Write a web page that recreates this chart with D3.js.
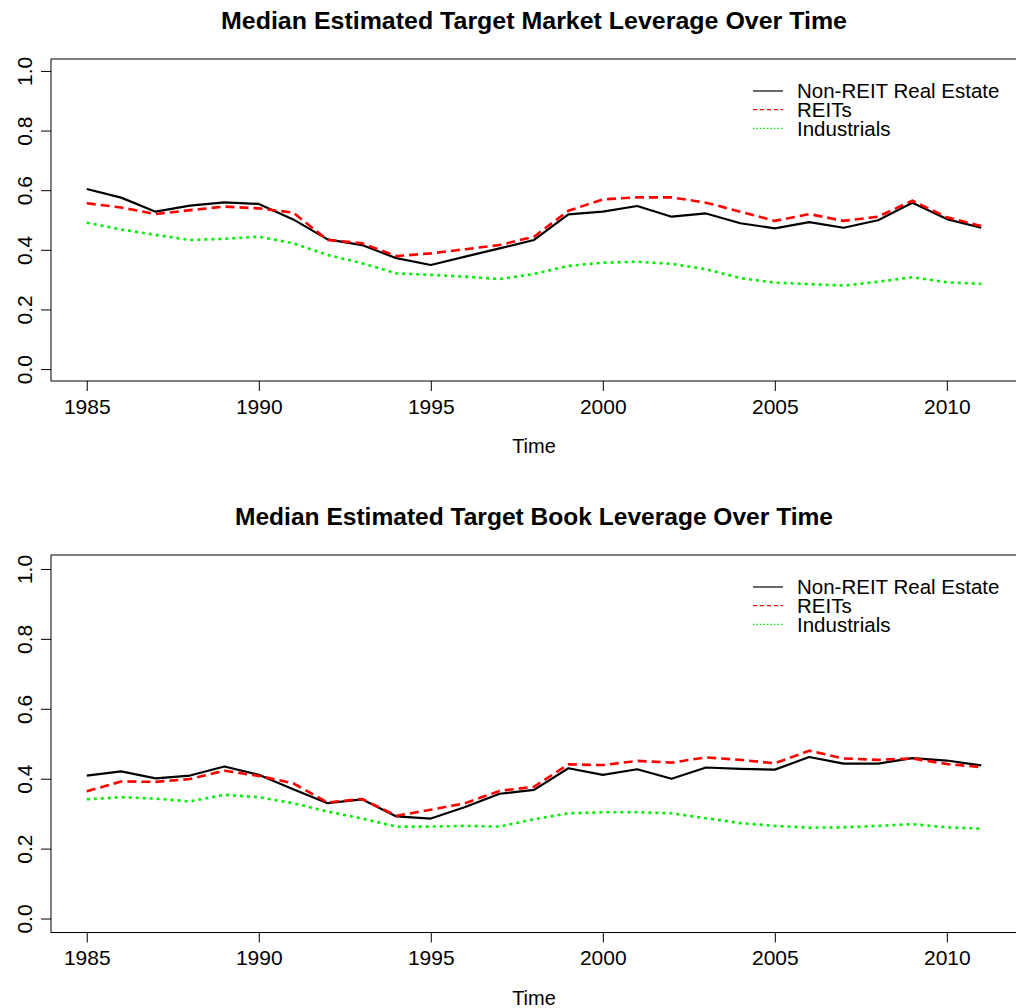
<!DOCTYPE html>
<html>
<head>
<meta charset="utf-8">
<script src="https://cdn.jsdelivr.net/npm/d3@7"></script>
<style>
  body { margin: 0; background: #fff; }
  svg { display: block; font-family: "Liberation Sans", Arial, Helvetica, sans-serif; }
</style>
</head>
<body>
<div id="chart"></div>
<script>
const years = d3.range(1985, 2012);
const seriesNames = ["Non-REIT Real Estate", "REITs", "Industrials"];
const yTicks = [0, 0.2, 0.4, 0.6, 0.8, 1.0];
const xTicks = [1985, 1990, 1995, 2000, 2005, 2010];

// market leverage
const marketNonReit = [0.604, 0.575, 0.528, 0.548, 0.559, 0.554, 0.502, 0.435, 0.416, 0.372, 0.349, 0.377, 0.405, 0.433,
  0.519, 0.528, 0.547, 0.511, 0.522, 0.489, 0.472, 0.493, 0.474, 0.499, 0.558, 0.503, 0.474];
const marketReit = [0.556, 0.542, 0.520, 0.533, 0.545, 0.539, 0.525, 0.433, 0.422, 0.379, 0.388, 0.402, 0.416, 0.444,
  0.531, 0.569, 0.576, 0.576, 0.558, 0.528, 0.497, 0.520, 0.497, 0.511, 0.565, 0.509, 0.480];
const marketIndustrial = [0.491, 0.468, 0.450, 0.433, 0.437, 0.444, 0.422, 0.383, 0.355, 0.321, 0.316, 0.310, 0.302, 0.319,
  0.346, 0.357, 0.360, 0.353, 0.335, 0.305, 0.290, 0.285, 0.280, 0.293, 0.308, 0.291, 0.286];

// book leverage
const bookNonReit = [0.409, 0.421, 0.401, 0.409, 0.435, 0.411, 0.370, 0.330, 0.341, 0.292, 0.286, 0.319, 0.357, 0.368,
  0.430, 0.411, 0.427, 0.400, 0.432, 0.428, 0.426, 0.462, 0.443, 0.443, 0.459, 0.452, 0.438];
const bookReit = [0.364, 0.392, 0.391, 0.399, 0.423, 0.408, 0.387, 0.332, 0.342, 0.294, 0.311, 0.330, 0.365, 0.377,
  0.441, 0.439, 0.451, 0.446, 0.461, 0.454, 0.444, 0.480, 0.458, 0.454, 0.458, 0.442, 0.433];
const bookIndustrial = [0.341, 0.347, 0.343, 0.335, 0.354, 0.347, 0.330, 0.306, 0.286, 0.263, 0.263, 0.265, 0.263, 0.284,
  0.301, 0.304, 0.304, 0.301, 0.287, 0.273, 0.265, 0.260, 0.261, 0.265, 0.270, 0.261, 0.257];

const styles = [
  { color: "#000000", width: 2.2, dash: null, legendDash: null },
  { color: "#ff0000", width: 2.6, dash: "9,5", legendDash: "4,3" },
  { color: "#00ee00", width: 2.6, dash: "3,4", legendDash: "1.5,2" }
];

const width = 1016;
const height = 1008;

const svg = d3.select("#chart")
  .append("svg")
  .attr("width", width)
  .attr("height", height);

function renderPanel({ top, boxBottom, title, titleWidth, series }) {
  const left = 51;
  const right = 1017;
  const x = d3.scaleLinear().domain([1983.96, 2012.04]).range([left, right]);
  const y = d3.scaleLinear().domain([-0.04, 1.04]).range([boxBottom, top]);

  const g = svg.append("g");

  g.append("text")
    .attr("x", (left + right) / 2)
    .attr("y", top - 30)
    .attr("text-anchor", "middle")
    .attr("font-size", 23)
    .attr("font-weight", "bold")
    .attr("textLength", titleWidth)
    .attr("lengthAdjust", "spacingAndGlyphs")
    .text(title);

  g.append("rect")
    .attr("x", left)
    .attr("y", top)
    .attr("width", right - left)
    .attr("height", boxBottom - top)
    .attr("fill", "none")
    .attr("stroke", "#000")
    .attr("stroke-width", 1);

  const xAxis = g.append("g")
    .attr("transform", `translate(0,${boxBottom})`)
    .call(d3.axisBottom(x).tickValues(xTicks).tickFormat(d3.format("d")).tickSize(10).tickPadding(8));
  xAxis.select(".domain").remove();
  xAxis.selectAll("text").attr("font-size", 21).attr("fill", "#000").attr("font-family", null);
  xAxis.selectAll("line").attr("stroke", "#000");

  const yAxis = g.append("g")
    .attr("transform", `translate(${left},0)`)
    .call(d3.axisLeft(y).tickValues(yTicks).tickFormat(d3.format(".1f")).tickSize(10));
  yAxis.select(".domain").remove();
  yAxis.selectAll("line").attr("stroke", "#000");
  yAxis.selectAll("text")
    .attr("font-size", 21)
    .attr("fill", "#000")
    .attr("font-family", null)
    .attr("text-anchor", "middle")
    .attr("dy", null)
    .attr("x", null)
    .attr("transform", "translate(-27,0) rotate(-90)")
    .attr("dominant-baseline", "central");

  g.append("text")
    .attr("x", (left + right) / 2)
    .attr("y", boxBottom + 72)
    .attr("text-anchor", "middle")
    .attr("font-size", 20)
    .text("Time");

  const line = d3.line()
    .x((d, i) => x(years[i]))
    .y((d) => y(d));

  g.selectAll(".series")
    .data(series)
    .join("path")
    .attr("class", "series")
    .attr("d", (d) => line(d))
    .attr("fill", "none")
    .attr("stroke", (d, i) => styles[i].color)
    .attr("stroke-width", (d, i) => styles[i].width)
    .attr("stroke-dasharray", (d, i) => styles[i].dash)
    .attr("stroke-linejoin", "round");

  const legend = g.append("g")
    .attr("transform", `translate(753,${top + 32})`);

  const item = legend.selectAll("g")
    .data(seriesNames)
    .join("g")
    .attr("transform", (d, i) => `translate(0,${i * 18.7})`);

  item.append("line")
    .attr("x1", 0)
    .attr("x2", 30)
    .attr("stroke", (d, i) => styles[i].color)
    .attr("stroke-width", 1.2)
    .attr("stroke-dasharray", (d, i) => styles[i].legendDash);

  item.append("text")
    .attr("x", 44)
    .attr("dy", "0.35em")
    .attr("font-size", 20.5)
    .text((d) => d);
}

renderPanel({
  top: 59,
  boxBottom: 381,
  title: "Median Estimated Target Market Leverage Over Time",
  titleWidth: 626,
  series: [marketNonReit, marketReit, marketIndustrial]
});

renderPanel({
  top: 555,
  boxBottom: 932.5,
  title: "Median Estimated Target Book Leverage Over Time",
  titleWidth: 598,
  series: [bookNonReit, bookReit, bookIndustrial]
});
</script>
</body>
</html>
